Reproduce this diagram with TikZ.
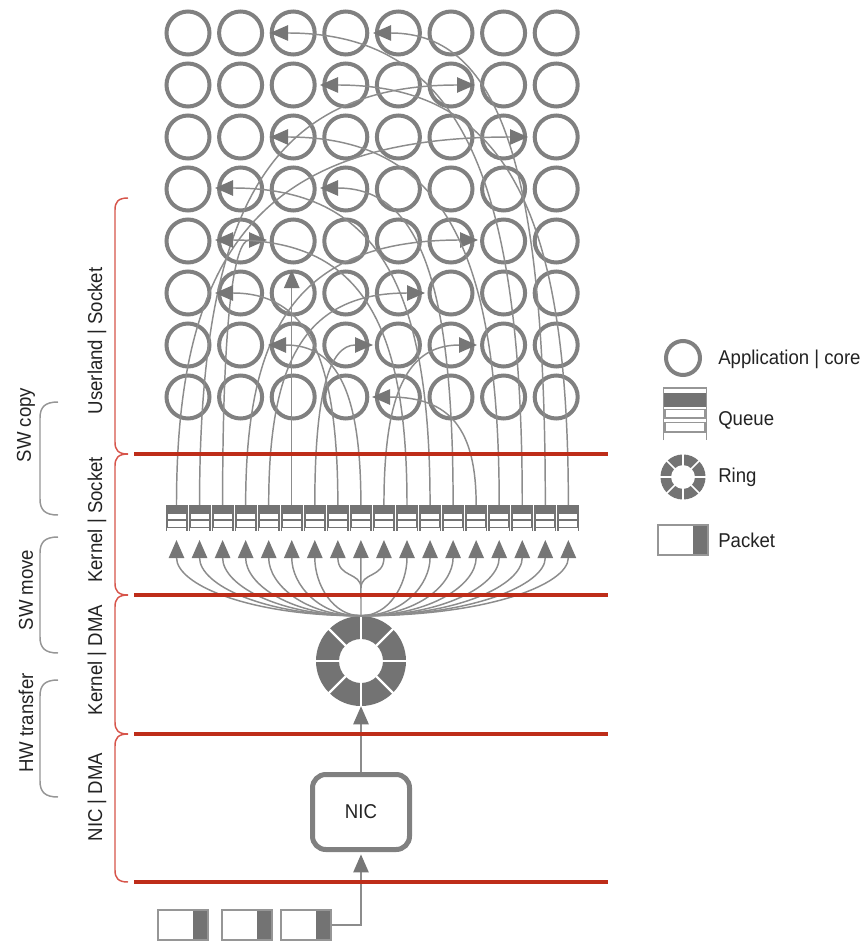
\documentclass[tikz,border=0pt]{standalone}
\usepackage{fontspec}
\setmainfont{Liberation Sans}[FakeStretch=0.93]
\usetikzlibrary{arrows.meta,calc}
\definecolor{cgray}{RGB}{128,128,128}
\definecolor{lgray}{RGB}{140,140,140}
\definecolor{agray}{RGB}{118,118,118}
\definecolor{dgray}{RGB}{115,115,115}
\definecolor{bgray}{RGB}{150,150,150}
\definecolor{redl}{RGB}{190,45,25}
\definecolor{redb}{RGB}{215,85,75}
\definecolor{txt}{RGB}{35,35,35}
\begin{document}
\begin{tikzpicture}[x=0.75pt,y=-0.75pt,
  appc/.style={circle,draw=cgray,line width=3pt,minimum size=32.25pt,inner sep=0pt},
  flow/.style={draw=lgray,line width=1.1pt,-{Triangle[length=13.5pt,width=11.5pt,color=agray]}},
  qbox/.style={rectangle,fill=dgray,minimum width=16.5pt,minimum height=17.6pt,inner sep=0pt},
  pkt/.style={rectangle,draw=bgray,line width=1.1pt,fill=white,minimum width=37.5pt,minimum height=22.5pt,inner sep=0pt,
    path picture={\fill[dgray] ([xshift=-11.25pt]path picture bounding box.north east) rectangle (path picture bounding box.south east);}},
  lbl/.style={text=txt,font=\fontsize{15pt}{18pt}\selectfont,inner sep=0pt},
  redline/.style={draw=redl,line width=2.3pt},
  redbrace/.style={draw=redb,line width=1.1pt},
  graybrace/.style={draw=bgray,line width=1.1pt}
]
\useasboundingbox (0,0) rectangle (866,941);
\fill[white] (0,0) rectangle (866,941);

% grid of application cores
\foreach \r in {1,...,8}{
  \foreach \c in {1,...,8}{
    \node[appc] (c\r\c) at ({188+52.6*(\c-1)},{33+52*(\r-1)}) {};
  }
}

% queues
\foreach \i in {1,...,18}{
  \pgfmathsetmacro\qx{176.5+23.05*(\i-1)}
  \node[qbox] (q\i) at (\qx,516.75) {};
  \fill[white] (\qx-9,513.5) rectangle (\qx+9,519);
  \fill[white] (\qx-9,521) rectangle (\qx+9,526.5);
  \fill[dgray] (\qx-11,528) rectangle (\qx-9.5,531);
  \fill[dgray] (\qx+9.5,528) rectangle (\qx+11,531);
}

% flows from queues to cores
\foreach \i/\tx/\ty in {1/528/137,2/475/85,3/267/240,4/478/240,5/425/293,7/373/345,8/215/293,9/268/345,10/477/345,11/215/240,12/215/188,13/320/188,14/372/397,15/270/137,16/270/33,17/373/33,18/320/85}{
  \pgfmathsetmacro\xs{176.5+23.05*(\i-1)}
  \pgfmathsetmacro\cy{\ty+0.3*(505-\ty)}
  \pgfmathsetmacro\cx{\tx+0.75*(\xs-\tx)}
  \coordinate (t\i) at (\tx,\ty);
  \draw[flow] (q\i.north) .. controls (\xs,\cy) and (\cx,\ty) .. (t\i);
}
\coordinate (t6) at (291.75,270);
\draw[flow] (q6.north) -- (t6);

% ring
\node[circle,minimum size=67.5pt,inner sep=0pt] (ring) at (361,661) {};
\fill[dgray,even odd rule] (ring.center) circle[radius=33.75pt] circle[radius=16.5pt];
\foreach \a in {0,45,...,315}{
  \draw[white,line width=1.8pt] (ring.center) ++(\a:15pt) -- ++(\a:20pt);
}

% fan from ring to queues
\coordinate (br) at (361,588);
\foreach \i in {1,...,18}{
  \pgfmathsetmacro\xs{176.5+23.05*(\i-1)}
  \coordinate (u\i) at (\xs,540);
}
\foreach \i in {1,2,3,4,5,6,7,11,12,13,14,15,16,17,18}{
  \pgfmathsetmacro\xs{176.5+23.05*(\i-1)}
  \pgfmathsetmacro\cxa{361+0.6*(\xs-361)}
  \draw[flow] (ring.north) .. controls (\cxa,616) and (\xs,585) .. (u\i);
}
\draw[flow] (ring.north) -- (u9);
\draw[flow] (br) .. controls (361,572) and (337.85,578) .. (u8);
\draw[flow] (br) .. controls (361,572) and (383.95,578) .. (u10);

% NIC
\node[draw=cgray,line width=3.75pt,rounded corners=10pt,minimum width=72.75pt,minimum height=56.25pt,inner sep=0pt,fill=white,lbl] (nic) at (361,812) {NIC};
\draw[flow] (nic.north) -- (ring.south);

% packets
\node[pkt] (p1) at (183,925) {};
\node[pkt] (p2) at (247,925) {};
\node[pkt] (p3) at (306,925) {};
\draw[flow,shorten >=1.8pt] (p3.east) -| (nic.south);

% red layer lines
\draw[redline] (134,454) -- (608,454);
\draw[redline] (134,595) -- (608,595);
\draw[redline] (134,734) -- (608,734);
\draw[redline] (134,882) -- (608,882);

% red braces
\foreach \ya/\yb in {198/454,454/595,595/734,734/882}{
  \draw[redbrace] (128,\ya) .. controls (118,\ya) and (115,\ya+4) .. (115,\ya+12) -- (115,\yb-12) .. controls (115,\yb-4) and (118,\yb) .. (128,\yb);
}
% gray braces
\foreach \ya/\yb in {402/515,537/653,680/797}{
  \draw[graybrace] (58,\ya) .. controls (45,\ya) and (40,\ya+5) .. (40,\ya+16) -- (40,\yb-16) .. controls (40,\yb-5) and (45,\yb) .. (58,\yb);
}

% layer labels
\node[lbl,rotate=90] (l1) at (97,341) {Userland | Socket};
\node[lbl,rotate=90] (l2) at (97,520) {Kernel | Socket};
\node[lbl,rotate=90] (l3) at (97,660) {Kernel | DMA};
\node[lbl,rotate=90] (l4) at (97,797) {NIC | DMA};
\node[lbl,rotate=90] (s1) at (26,425) {SW copy};
\node[lbl,rotate=90] (s2) at (26,590) {SW move};
\node[lbl,rotate=90] (s3) at (26,723) {HW transfer};

% legend
\node[circle,draw=cgray,line width=3pt,minimum size=25.5pt,inner sep=0pt] (lgc) at (683,358) {};
\node[lbl,anchor=west] (lgct) at (718,359) {Application | core};

\node[minimum width=33pt,minimum height=39pt,inner sep=0pt] (lgq) at (685,414) {};
\draw[bgray,line width=1.1pt] (663.5,440) -- (663.5,388) -- (706.5,388) -- (706.5,440);
\fill[dgray] (664,393) rectangle (706,407);
\draw[bgray,line width=1.1pt] (665,409.5) rectangle (705,418);
\draw[bgray,line width=1.1pt] (665,422.5) rectangle (705,432);
\node[lbl,anchor=west] (lgqt) at (718,420) {Queue};

\node[circle,minimum size=33.75pt,inner sep=0pt] (lgr) at (683,477) {};
\fill[dgray,even odd rule] (lgr.center) circle[radius=16.9pt] circle[radius=9pt];
\foreach \a in {0,45,...,315}{
  \draw[white,line width=1.2pt] (lgr.center) ++(\a:8pt) -- ++(\a:10pt);
}
\node[lbl,anchor=west] (lgrt) at (718,477) {Ring};

\node[pkt] (lgp) at (683,540) {};
\node[lbl,anchor=west] (lgpt) at (718,540) {Packet};
\end{tikzpicture}
\end{document}
